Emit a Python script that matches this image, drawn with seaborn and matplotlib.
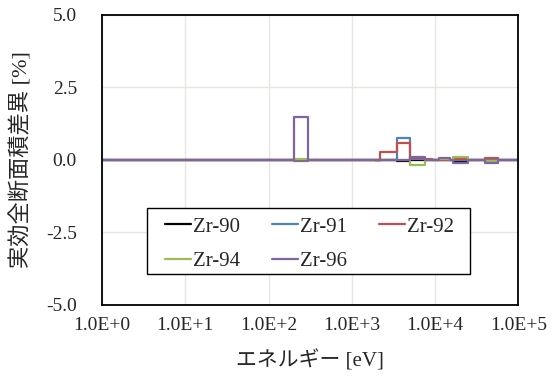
import numpy as np
import pandas as pd
import matplotlib
matplotlib.use("Agg")
import matplotlib.pyplot as plt
from matplotlib.patches import Rectangle
import seaborn as sns

# Energy group boundaries [eV]
edges = [1.0, 2.0e2, 3.0e2, 1.95e3, 2.2e3, 3.5e3, 5.0e3, 7.6e3, 9.3e3,
         1.1e4, 1.5e4, 1.65e4, 2.5e4, 4.0e4, 5.7e4, 1.0e5]

# Group-wise difference of effective total cross section [%]
zr90 = [0.0, 0.0, 0.0, 0.0, 0.0, -0.03, 0.0, 0.0, 0.0, 0.0, 0.0, -0.02, 0.0, 0.0, 0.0]
zr91 = [0.0, -0.05, 0.0, 0.0, 0.0, 0.76, 0.05, 0.0, 0.0, 0.0, 0.0, 0.0, 0.0, 0.0, 0.0]
zr92 = [0.0, 0.0, 0.0, 0.0, 0.28, 0.57, 0.07, 0.05, 0.0, 0.0, 0.0, 0.03, 0.0, 0.07, 0.0]
zr94 = [0.0, 0.02, 0.0, -0.05, 0.0, 0.0, -0.16, 0.0, 0.0, 0.03, 0.0, 0.09, 0.0, -0.03, 0.0]
zr96 = [0.0, 1.47, 0.0, 0.0, 0.0, 0.0, 0.11, 0.0, 0.0, 0.08, 0.0, -0.10, 0.0, -0.10, 0.0]

series = {"Zr-90": zr90, "Zr-91": zr91, "Zr-92": zr92, "Zr-94": zr94, "Zr-96": zr96}
colors = ["#000000", "#4F81BD", "#C0504D", "#9BBB59", "#8064A2"]

xticks = [1e0, 1e1, 1e2, 1e3, 1e4, 1e5]
xticklabels = ["1.0E+0", "1.0E+1", "1.0E+2", "1.0E+3", "1.0E+4", "1.0E+5"]
yticks = [-5.0, -2.5, 0.0, 2.5, 5.0]
yticklabels = ["-5.0", "-2.5", "0.0", "2.5", "5.0"]

rows = []
for name, vals in series.items():
    # repeat the last group value so the final step reaches the upper edge
    ys = list(vals) + [vals[-1]]
    for e, v in zip(edges, ys):
        rows.append({"E": e, "diff": v, "nuclide": name})
df = pd.DataFrame(rows)

sns.set_style("white")
serif = ["Liberation Serif", "Noto Sans CJK JP"]
plt.rcParams["font.family"] = serif

fig = plt.figure(figsize=(5.57, 3.87), dpi=100)
ax = fig.add_axes([0.1831, 0.2119, 0.7476, 0.7494])

sns.lineplot(data=df, x="E", y="diff", hue="nuclide", palette=colors,
             drawstyle="steps-post", linewidth=1.6, sort=False,
             estimator=None, ax=ax)

ax.set_xscale("log")
ax.set_xlim(1, 1e5)
ax.set_ylim(-5, 5)
ax.set_xticks(xticks)
ax.set_xticklabels(xticklabels)
ax.minorticks_off()
ax.set_yticks(yticks)
ax.set_yticklabels(yticklabels)
ax.tick_params(axis="both", length=0, labelsize=14)
ax.tick_params(axis="x", pad=9)
ax.tick_params(axis="y", pad=18)
ax.grid(True, color="#e8e6df", linewidth=1.0)
ax.set_axisbelow(True)
for s in ax.spines.values():
    s.set_color("black")
    s.set_linewidth(1.3)

ax.set_xlabel("エネルギー [eV]", fontsize=15, labelpad=11)
ax.set_ylabel("実効全断面積差異 [%]", fontsize=16, labelpad=10)

# legend filled row by row: Zr-90 Zr-91 Zr-92 / Zr-94 Zr-96
handles, labels = ax.get_legend_handles_labels()
order = [0, 3, 1, 4, 2]
leg = ax.legend([handles[i] for i in order], [labels[i] for i in order],
                ncol=3, loc="upper left", bbox_to_anchor=(0.1514, 0.303),
                fontsize=15, frameon=False, borderpad=0, borderaxespad=0,
                handlelength=1.25, handletextpad=0.1,
                columnspacing=1.52, labelspacing=0.72)
for line in leg.get_lines():
    line.set_linewidth(1.6)

# legend box
box = Rectangle((0.1075, 0.1059), 0.7771, 0.2296, transform=ax.transAxes,
                facecolor="white", edgecolor="black", linewidth=1.0, zorder=4)
ax.add_patch(box)
leg.set_zorder(5)

fig.savefig("out.png", dpi=100)
